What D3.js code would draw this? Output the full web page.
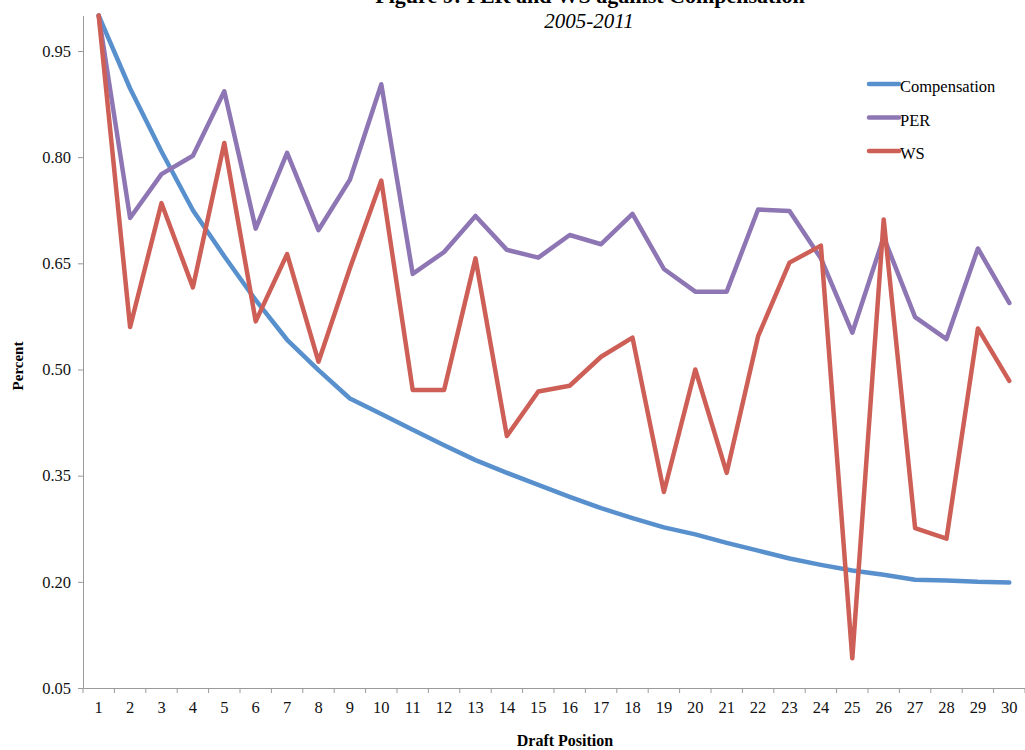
<!DOCTYPE html>
<html>
<head>
<meta charset="utf-8">
<script src="https://cdn.jsdelivr.net/npm/d3@7"></script>
<style>
  html, body { margin: 0; padding: 0; background: #fff; }
  svg { display: block; font-family: "Liberation Serif", "Times New Roman", serif; }
</style>
</head>
<body>
<svg id="chart" width="1025" height="750"></svg>
<script>
// Draft positions 1-30
const categories = d3.range(1, 31).map(String);

// Compensation, PER and WS relative to pick 1, 2005-2011
const compensation = [1.000, 0.897, 0.808, 0.725, 0.660, 0.598, 0.542, 0.499, 0.459, 0.437,
                      0.415, 0.393, 0.372, 0.354, 0.337, 0.320, 0.304, 0.290, 0.277, 0.267,
                      0.255, 0.244, 0.233, 0.224, 0.216, 0.210, 0.203, 0.202, 0.200, 0.199];
const per = [1.000, 0.714, 0.776, 0.802, 0.893, 0.699, 0.806, 0.697, 0.768, 0.903,
             0.635, 0.666, 0.717, 0.669, 0.658, 0.690, 0.677, 0.720, 0.642, 0.610,
             0.610, 0.726, 0.724, 0.657, 0.552, 0.687, 0.574, 0.543, 0.671, 0.594];
const ws = [1.000, 0.560, 0.735, 0.616, 0.820, 0.568, 0.663, 0.511, 0.643, 0.767,
            0.471, 0.471, 0.657, 0.406, 0.469, 0.477, 0.518, 0.545, 0.327, 0.500,
            0.354, 0.547, 0.651, 0.675, 0.092, 0.712, 0.276, 0.261, 0.558, 0.484];

const yTicks = [0.05, 0.20, 0.35, 0.50, 0.65, 0.80, 0.95];

const seriesNames = ["Compensation", "PER", "WS"];
const seriesValues = [compensation, per, ws];
const seriesColors = ["#5890cd", "#8d76b3", "#cd5f57"];

const svg = d3.select("#chart");
const plotLeft = 83, plotRight = 1025, plotTop = 15.6, plotBottom = 688;

const x = d3.scaleBand().domain(categories).range([plotLeft, plotRight]);
const y = d3.scaleLinear().domain([0.05, 1.0]).range([plotBottom, plotTop]);

const axisColor = "#9a9a9a";
const serif = "'Liberation Serif', 'Times New Roman', serif";

// Title and subtitle (the title sits at the very top edge)
svg.append("text")
  .attr("x", 590).attr("y", 3)
  .attr("text-anchor", "middle")
  .attr("font-weight", "bold")
  .attr("font-size", 22)
  .text("Figure 9: PER and WS against Compensation");
svg.append("text")
  .attr("x", 589).attr("y", 28)
  .attr("text-anchor", "middle")
  .attr("font-style", "italic")
  .attr("font-size", 21)
  .text("2005-2011");

// Y axis
const yAxis = svg.append("g")
  .attr("transform", `translate(${plotLeft},0)`)
  .call(d3.axisLeft(y).tickValues(yTicks).tickFormat(d3.format(".2f"))
        .tickSize(5).tickSizeOuter(0).tickPadding(7));
yAxis.selectAll("text").attr("font-size", 16.5).attr("fill", "#111")
  .attr("font-family", serif);
yAxis.selectAll("line, path").attr("stroke", axisColor);

// X axis: labels centred in each band, tick marks on band boundaries
const xAxis = svg.append("g")
  .attr("transform", `translate(0,${plotBottom})`)
  .call(d3.axisBottom(x).tickSize(0).tickSizeOuter(0).tickPadding(13));
xAxis.selectAll("text").attr("font-size", 16.5).attr("fill", "#111")
  .attr("font-family", serif);
xAxis.select(".domain").attr("stroke", axisColor);
const boundaries = categories.map(c => x(c)).concat([x(categories[categories.length - 1]) + x.bandwidth()]);
xAxis.selectAll("line.bound")
  .data(boundaries)
  .join("line")
  .attr("class", "bound")
  .attr("x1", d => d).attr("x2", d => d)
  .attr("y1", 0).attr("y2", 5)
  .attr("stroke", axisColor);

// Axis titles
svg.append("text")
  .attr("transform", "translate(23,366) rotate(-90)")
  .attr("text-anchor", "middle")
  .attr("font-weight", "bold")
  .attr("font-size", 15)
  .text("Percent");
svg.append("text")
  .attr("x", 565).attr("y", 746)
  .attr("text-anchor", "middle")
  .attr("font-weight", "bold")
  .attr("font-size", 16)
  .text("Draft Position");

// Series lines
const line = d3.line()
  .x((d, i) => x(categories[i]) + x.bandwidth() / 2)
  .y(d => y(d));

seriesValues.forEach((vals, k) => {
  svg.append("path")
    .datum(vals)
    .attr("fill", "none")
    .attr("stroke", seriesColors[k])
    .attr("stroke-width", 4.5)
    .attr("stroke-linejoin", "round")
    .attr("stroke-linecap", "round")
    .attr("d", line);
});

// Legend
const legend = svg.append("g").attr("transform", "translate(869,84)");
seriesNames.forEach((name, k) => {
  const g = legend.append("g").attr("transform", `translate(0,${k * 33.5})`);
  g.append("line")
    .attr("x1", 0).attr("x2", 30).attr("y1", 0).attr("y2", 0)
    .attr("stroke", seriesColors[k]).attr("stroke-width", 4.5)
    .attr("stroke-linecap", "round");
  g.append("text")
    .attr("x", 31).attr("y", 8)
    .attr("font-size", 16.5)
    .text(name);
});
</script>
</body>
</html>
